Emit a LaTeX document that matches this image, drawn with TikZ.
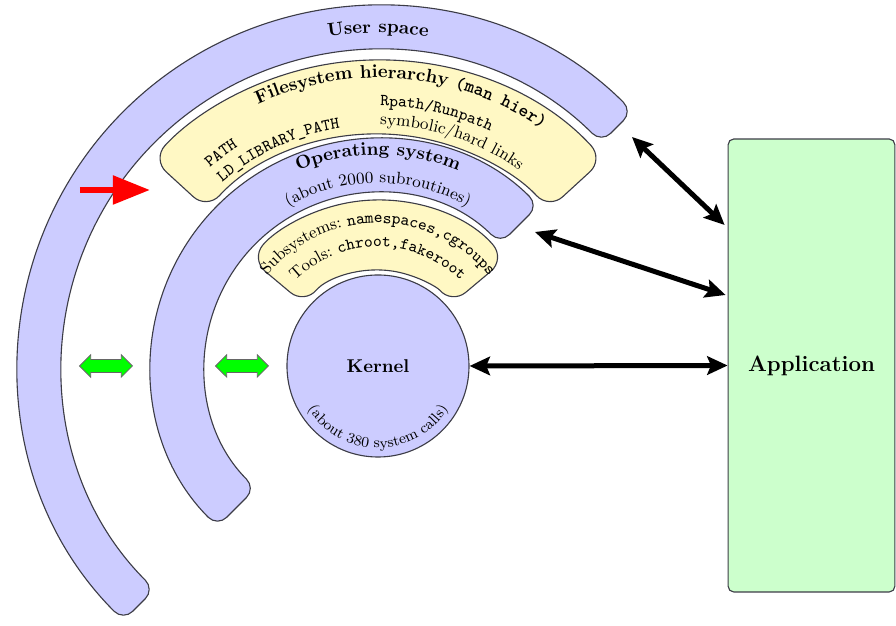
\documentclass[tikz,border=0pt]{standalone}
\usetikzlibrary{arrows.meta,shapes.arrows,decorations.text,calc}
\definecolor{bandblue}{RGB}{204,204,255}
\definecolor{bandyellow}{RGB}{255,248,196}
\definecolor{appgreen}{RGB}{204,255,204}
\definecolor{edgegray}{RGB}{60,60,70}
\begin{document}
\begin{tikzpicture}[x=0.54pt,y=0.54pt,
  band/.style={draw=edgegray, line width=0.6pt, rounded corners=7pt},
  blueband/.style={band, fill=bandblue},
  yellowband/.style={band, fill=bandyellow, rounded corners=10pt},
  link/.style={line width=2.7pt, {Stealth[length=11pt,width=10pt,inset=2pt]}-{Stealth[length=11pt,width=10pt,inset=2pt]}},
  swaparrow/.style={double arrow, draw=black!60, fill=green, line width=0.4pt,
    minimum height=28.6pt, minimum width=0pt, double arrow head extend=2.6pt,
    inner sep=0pt, text height=6.5pt, text depth=0pt, text width=0pt},
  arctext/.style 2 args={decorate, decoration={text along path, text align=#1, text={#2}}}]
\useasboundingbox (-378,-260) rectangle (518,366);

% concentric bands
\path[blueband] (45:360) arc[start angle=45,end angle=225,radius=360]
  -- (225:316) arc[start angle=225,end angle=45,radius=316] -- cycle;
\path[yellowband] (42.5:306) arc[start angle=42.5,end angle=137.5,radius=306]
  -- (137.5:232) arc[start angle=137.5,end angle=42.5,radius=232] -- cycle;
\path[blueband] (45:227) arc[start angle=45,end angle=225,radius=227]
  -- (225:173) arc[start angle=225,end angle=45,radius=173] -- cycle;
\path[yellowband] (40:166) arc[start angle=40,end angle=140,radius=166]
  -- (140:96) arc[start angle=140,end angle=40,radius=96] -- cycle;

% kernel and application
\node[circle, draw=edgegray, line width=0.6pt, fill=bandblue, minimum size=98.3pt, inner sep=0pt]
  (kernel) at (0,0) {\bfseries Kernel};
\node[draw=edgegray, line width=0.6pt, fill=appgreen, rounded corners=3pt,
  minimum width=90pt, minimum height=244.6pt] (app) at (433.5,0.5) {\large\bfseries Application};

% curved labels
\path[arctext={center}{|\bfseries|User space}] (160:333) arc[start angle=160,end angle=20,radius=333];
\path[arctext={center}{|\bfseries|Filesystem hierarchy |\bfseries\ttfamily|(man hier)}]
  (155:288) arc[start angle=155,end angle=15,radius=288];
\path[arctext={left}{|\small\ttfamily|PATH}] (130.3:260) arc[start angle=130.3,end angle=60,radius=260];
\path[arctext={left}{|\small\ttfamily|LD{\_}LIBRARY{\_}PATH}] (130.3:241) arc[start angle=130.3,end angle=60,radius=241];
\path[arctext={left}{|\small\ttfamily|Rpath/Runpath}] (89.5:260) arc[start angle=89.5,end angle=20,radius=260];
\path[arctext={left}{|\small|symbolic/hard links}] (89.5:241) arc[start angle=89.5,end angle=20,radius=241];
\path[arctext={center}{|\bfseries|Operating system}] (160:211) arc[start angle=160,end angle=20,radius=211];
\path[arctext={center}{|\small|(about 2000 subroutines)}] (170:183) arc[start angle=170,end angle=10,radius=183];
\path[arctext={center}{|\small|Subsystems: |\small\ttfamily|namespaces,cgroups}] (175:143) arc[start angle=175,end angle=5,radius=143];
\path[arctext={center}{|\small|Tools: |\small\ttfamily|chroot,fakeroot}] (175:119) arc[start angle=175,end angle=5,radius=119];
\path[arctext={center}{|\footnotesize|(about 380 system calls)}] (185:82) arc[start angle=185,end angle=355,radius=82];

% connectors to the application
\coordinate (userEnd) at (254,229);
\coordinate (osEnd) at (157,134);
\coordinate (appA) at ($(app.west)+(-3,140.5)$);
\coordinate (appB) at ($(app.west)+(-2,70.5)$);
\draw[link] (userEnd) -- (appA);
\draw[link] (osEnd) -- (appB);
\draw[link] (kernel.east) -- (app.west);

% entry arrow and swap markers
\coordinate (redTail) at (-298,176);
\coordinate (redTip) at (-228,176);
\draw[red, line width=3.2pt, -{Triangle[length=20pt,width=15pt]}] (redTail) -- (redTip);
\node[swaparrow] (swapOuter) at (-272,0) {};
\node[swaparrow] (swapInner) at (-136,0) {};
\end{tikzpicture}
\end{document}
